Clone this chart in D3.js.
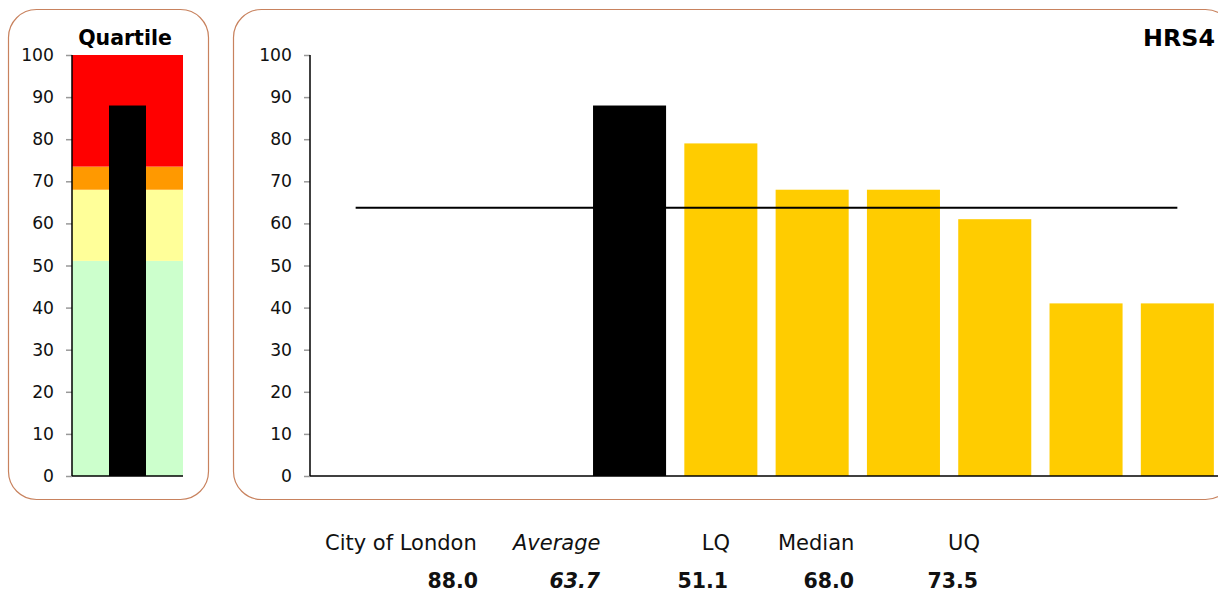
<!DOCTYPE html>
<html><head><meta charset="utf-8">
<script src="https://cdn.jsdelivr.net/npm/d3@7"></script>
<style>body{margin:0;background:#fff;}svg{display:block;}</style>
</head><body>
<svg id="c" width="1218" height="594"></svg>
<script>
const ticks = [0,10,20,30,40,50,60,70,80,90,100];
const slots = ["s0","s1","s2","s3","s4","s5","s6","s7","s8","s9"];
const barValues = [null,null,null,88,79,68,68,61,41,41];
const barIsSelf = [false,false,false,true,false,false,false,false,false,false];
const average = 63.7;
const quartileBands = [
  {from:0, to:51.1, color:"#CCFFCC"},
  {from:51.1, to:68.0, color:"#FFFF99"},
  {from:68.0, to:73.5, color:"#FF9900"},
  {from:73.5, to:100, color:"#FF0000"}
];
const selfValue = 88.0;
const labelNames = ["City of London","Average","LQ","Median","UQ"];
const labelValues = ["88.0","63.7","51.1","68.0","73.5"];

const svg = d3.select("#c");
const font = "'DejaVu Sans', Verdana, sans-serif";
const border = "#C8825E";

// panels
svg.append("rect").attr("x",8.5).attr("y",9.5).attr("width",200).attr("height",490)
  .attr("rx",28).attr("fill","#fff").attr("stroke",border).attr("stroke-width",1.2);
svg.append("rect").attr("x",233.5).attr("y",9.5).attr("width",1000).attr("height",490)
  .attr("rx",28).attr("fill","#fff").attr("stroke",border).attr("stroke-width",1.2);

const y = d3.scaleLinear().domain([0,100]).range([476,55]);

function drawAxis(x0, x1){
  const g = svg.append("g").attr("transform",`translate(${x0},0)`);
  const ax = d3.axisLeft(y).tickValues(ticks).tickSize(6).tickPadding(12);
  g.call(ax);
  g.select(".domain").remove();
  g.selectAll(".tick line").attr("stroke","#999").attr("stroke-width",1.5);
  g.selectAll(".tick text").attr("font-family",font).attr("font-size",17.2).attr("fill","#111");
  svg.append("line").attr("x1",x0).attr("x2",x0).attr("y1",y(100)).attr("y2",y(0))
    .attr("stroke","#000").attr("stroke-width",1.5);
  svg.append("line").attr("x1",x0).attr("x2",x1).attr("y1",y(0)).attr("y2",y(0))
    .attr("stroke","#000").attr("stroke-width",1.5);
}

// left quartile panel
const lx0 = 72, lx1 = 183;
svg.selectAll("rect.band").data(quartileBands).enter().append("rect")
  .attr("x",lx0).attr("width",lx1-lx0)
  .attr("y",d=>y(d.to)).attr("height",d=>y(d.from)-y(d.to))
  .attr("fill",d=>d.color);
const lxs = d3.scaleBand().domain(["q"]).range([lx0,lx1]).paddingInner(0.5).paddingOuter(0.5);
svg.append("rect").attr("x",lxs("q")).attr("width",lxs.bandwidth())
  .attr("y",y(selfValue)).attr("height",y(0)-y(selfValue)).attr("fill","#000");
drawAxis(lx0, lx1);
svg.append("text").attr("x",125).attr("y",45).attr("text-anchor","middle")
  .attr("font-family",font).attr("font-weight","bold").attr("font-size",20.5).text("Quartile");

// right panel
const rx0 = 310, rx1 = 1223;
const x = d3.scaleBand().domain(slots).range([rx0,rx1]).paddingInner(0.2).paddingOuter(0.1);
const data = slots.map((s,i)=>({s, v:barValues[i], self:barIsSelf[i]})).filter(d=>d.v!=null);
svg.selectAll("rect.bar").data(data).enter().append("rect")
  .attr("x",d=>x(d.s)).attr("width",x.bandwidth())
  .attr("y",d=>y(d.v)).attr("height",d=>y(0)-y(d.v))
  .attr("fill",d=>d.self?"#000":"#FFCC00");
drawAxis(rx0, rx1);
svg.append("line")
  .attr("x1",x(slots[0])+x.bandwidth()/2).attr("x2",x(slots[slots.length-1])+x.bandwidth()/2)
  .attr("y1",y(average)).attr("y2",y(average)).attr("stroke","#000").attr("stroke-width",2);
svg.append("text").attr("x",1215).attr("y",46).attr("text-anchor","end")
  .attr("font-family",font).attr("font-weight","bold").attr("font-size",23.8).text("HRS4");

// bottom labels
const nameX = [325, 513, 730, 778, 980];
const nameAnchor = ["start","start","end","start","end"];
labelNames.forEach((n,i)=>{
  svg.append("text").attr("x",nameX[i]).attr("y",550).attr("text-anchor",nameAnchor[i])
    .attr("font-family",font).attr("font-size",21)
    .attr("font-style",i===1?"italic":"normal").attr("fill","#111").text(n);
});
const valX = [478, 600, 728, 854, 978];
labelValues.forEach((v,i)=>{
  svg.append("text").attr("x",valX[i]).attr("y",588).attr("text-anchor","end")
    .attr("font-family",font).attr("font-size",20.5).attr("font-weight","bold")
    .attr("font-style",i===1?"italic":"normal").attr("fill","#111").text(v);
});
</script>
</body></html>
